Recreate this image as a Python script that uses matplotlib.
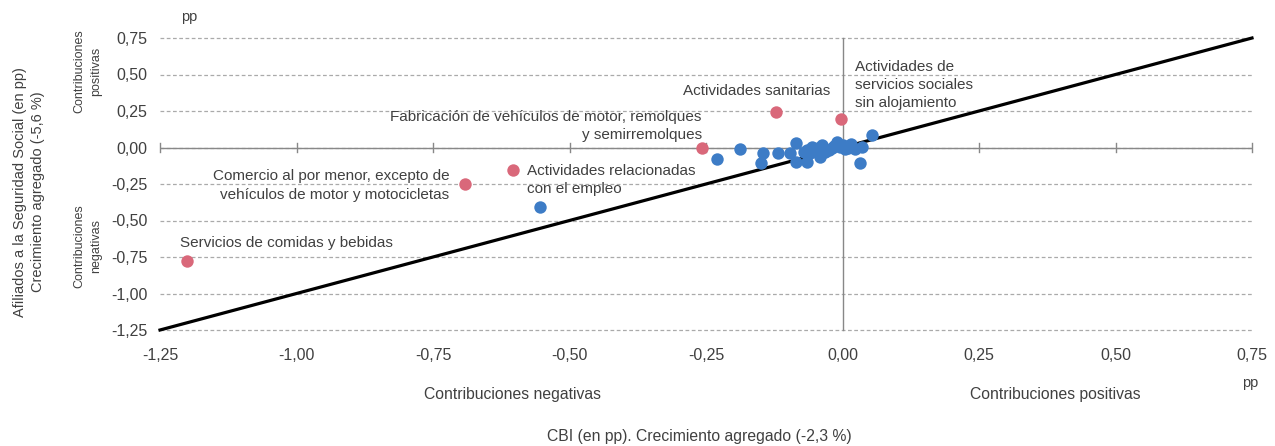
import matplotlib
matplotlib.use("Agg")
import matplotlib.pyplot as plt
from matplotlib import font_manager
import numpy as np

# ---- data ----
blue_x = [-0.554, -0.230, -0.187, -0.146, -0.149, -0.118, -0.096, -0.086, -0.085,
          -0.065, -0.065, -0.056, -0.041, -0.037, -0.032, -0.019, -0.010, -0.004,
          0.005, 0.016, 0.023, 0.035, 0.032, 0.054, -0.050, -0.045, -0.025, -0.015,
          0.000, -0.060, -0.070, 0.010]
blue_y = [-0.407, -0.079, -0.012, -0.036, -0.104, -0.036, -0.040, 0.029, -0.097,
          -0.017, -0.097, 0.005, -0.063, 0.017, -0.029, -0.006, 0.040, 0.005,
          -0.012, 0.024, -0.012, 0.005, -0.104, 0.086, -0.010, 0.000, -0.020, 0.010,
          0.015, -0.040, -0.030, 0.000]

red_x = [-1.201, -0.691, -0.603, -0.258, -0.122, -0.002]
red_y = [-0.780, -0.250, -0.155, -0.005, 0.245, 0.193]
red_labels = ["Servicios de comidas y bebidas",
              "Comercio al por menor, excepto de\nvehículos de motor y motocicletas",
              "Actividades relacionadas\ncon el empleo",
              "Fabricación de vehículos de motor, remolques\ny semirremolques",
              "Actividades sanitarias",
              "Actividades de\nservicios sociales\nsin alojamiento"]

ticks = [-1.25, -1.00, -0.75, -0.50, -0.25, 0.00, 0.25, 0.50, 0.75]
tick_labels = ["-1,25", "-1,00", "-0,75", "-0,50", "-0,25", "0,00", "0,25", "0,50", "0,75"]

plt.rcParams['font.family'] = ['Liberation Sans', 'DejaVu Sans']
installed = {f.name for f in font_manager.fontManager.ttflist}
narrow = ['Liberation Sans Narrow', 'Liberation Sans'] if 'Liberation Sans Narrow' in installed else ['Liberation Sans']
narrow_size = 10.5 if 'Liberation Sans Narrow' in installed else 9.0

TXT = '#404040'
BLUE = '#3d7cc6'
RED = '#d9687a'

fig = plt.figure(figsize=(12.75, 4.46), dpi=100)
ax = fig.add_axes([160/1275, 1-330/446, (1252-160)/1275, (330-38)/446])
ax.set_xlim(-1.25, 0.75)
ax.set_ylim(-1.25, 0.75)

for t in ticks:
    ax.axhline(t, color='#aaaaaa', lw=0.9, ls=(0, (3, 2)), zorder=1, clip_on=False)
ax.axhline(0, color='#888888', lw=1.0, zorder=2)
ax.axvline(0, color='#888888', lw=1.0, zorder=2, clip_on=False)
# tick marks on the y=0 line
for t in ticks:
    ax.plot([t, t], [-0.03, 0.03], color='#888888', lw=1.0, zorder=2, clip_on=False)

ax.plot([-1.25, 0.75], [-1.25, 0.75], color='black', lw=2.3, zorder=3, clip_on=False)

ax.scatter(blue_x, blue_y, s=80, color=BLUE, zorder=4, linewidths=0)
ax.scatter(red_x, red_y, s=80, color=RED, zorder=4, linewidths=0)

for s in ax.spines.values():
    s.set_visible(False)
ax.set_xticks(ticks)
ax.set_xticklabels(tick_labels)
ax.set_yticks(ticks)
ax.set_yticklabels(tick_labels)
ax.tick_params(length=0, labelsize=11.5, colors=TXT, pad=9)
ax.tick_params(axis='x', pad=13)

fs = 11
ann = dict(fontsize=fs, color=TXT, zorder=5, linespacing=1.38)
ax.text(-1.214, -0.655, red_labels[0], ha='left', va='center', **ann)
ax.text(-0.72, -0.26, red_labels[1], ha='right', va='center', **ann)
ax.text(-0.578, -0.225, red_labels[2], ha='left', va='center', **ann)
ax.text(-0.258, 0.147, red_labels[3], ha='right', va='center', **ann)
ax.text(-0.158, 0.39, red_labels[4], ha='center', va='center', **ann)
ax.text(0.023, 0.43, red_labels[5], ha='left', va='center', **ann)

# axis texts
fig.text(181/1275, 1-17/446, "pp", fontsize=10.5, color=TXT, ha='left', va='center')
fig.text(1250/1275, 1-383/446, "pp", fontsize=10.5, color=TXT, ha='center', va='center')
fig.text(512/1275, 1-395/446, "Contribuciones negativas", fontsize=11.3, color=TXT, ha='center', va='center')
fig.text(1055/1275, 1-395/446, "Contribuciones positivas", fontsize=11.3, color=TXT, ha='center', va='center')
fig.text(699/1275, 1-437/446, "CBI (en pp). Crecimiento agregado (-2,3 %)", fontsize=11.3, color=TXT, ha='center', va='center')
fig.text(29/1275, 1-192/446, "Afiliados a la Seguridad Social (en pp)\nCrecimiento agregado (-5,6 %)",
         fontsize=10.5, color=TXT, ha='center', va='center', rotation=90, linespacing=1.45)
fig.text(88/1275, 1-71/446, "Contribuciones\npositivas", fontsize=narrow_size, family=narrow,
         color=TXT, ha='center', va='center', rotation=90, linespacing=1.5)
fig.text(88/1275, 1-246/446, "Contribuciones\nnegativas", fontsize=narrow_size, family=narrow,
         color=TXT, ha='center', va='center', rotation=90, linespacing=1.5)

fig.savefig("out.png", dpi=100)
